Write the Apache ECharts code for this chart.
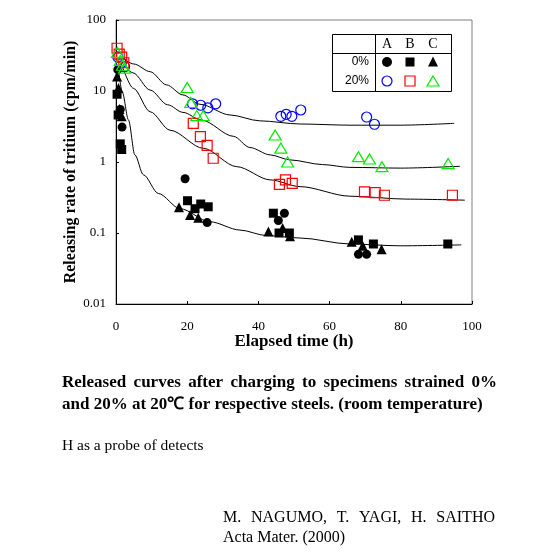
<!DOCTYPE html>
<html>
<head>
<meta charset="utf-8">
<script src="https://cdn.jsdelivr.net/npm/echarts@6/dist/echarts.min.js"></script>
<style>
  html, body { margin: 0; padding: 0; background: #fff; }
  #chart { width: 539px; height: 558px; }
</style>
</head>
<body>
<div id="chart"></div>
<script>
// tick labels
var xTicks = [0, 20, 40, 60, 80, 100];
var yTickLabels = ['0.01', '0.1', '1', '10', '100'];

// 0% strained, steels A (circle), B (square), C (triangle)
var steelA0 = [[0.5, 20], [1.2, 5.5], [1.7, 3.1], [19.4, 0.58], [25.6, 0.14],
  [45.6, 0.15], [47.3, 0.19], [68.1, 0.05], [70.4, 0.05]];
var steelB0 = [[0.3, 9], [0.6, 4.6], [1.2, 1.8], [1.6, 1.5], [20.1, 0.285], [22.2, 0.22],
  [23.8, 0.256], [25.9, 0.234], [44.2, 0.19], [45.8, 0.1], [48.7, 0.1],
  [68.1, 0.08], [72.3, 0.07], [93.2, 0.07]];
var steelC0 = [[0.3, 16], [0.7, 11], [1.0, 5.6], [1.6, 4.4], [17.7, 0.23], [20.8, 0.18],
  [23.1, 0.164], [42.8, 0.105], [46.8, 0.118], [48.9, 0.09], [66.2, 0.075],
  [69.3, 0.066], [74.6, 0.059]];

// 20% strained
var steelA20 = [[0.5, 30], [1.5, 25], [2.4, 22], [21.5, 6.6], [23.8, 6.3], [25.8, 5.8],
  [28, 6.6], [46.3, 4.4], [47.8, 4.7], [49.4, 4.4], [51.9, 5.4], [70.4, 4.3], [72.6, 3.4]];
var steelB20 = [[0.3, 40], [0.9, 33], [1.6, 30], [2.2, 25], [21.7, 3.5], [23.7, 2.27],
  [25.6, 1.72], [27.3, 1.13], [45.9, 0.485], [47.6, 0.56], [49.5, 0.5], [69.8, 0.38],
  [72.8, 0.37], [75.4, 0.34], [94.5, 0.34]];
var steelC20 = [[0.4, 35], [1.2, 27], [1.8, 23], [2.4, 21], [20, 11.2], [21, 6.9],
  [22.7, 4.5], [24.5, 4.5], [44.7, 2.4], [46.3, 1.57], [48.2, 1.0], [68.1, 1.19],
  [71.2, 1.1], [74.7, 0.86], [93.3, 0.95]];

// fitted curves
var curveA20 = [[1.5, 30], [5, 24], [9.6, 18.7], [14.2, 12.2], [18.8, 8.8], [23.6, 6.5],
  [32, 4.6], [40.4, 3.8], [51.7, 3.43], [65.7, 3.3], [79.8, 3.3], [95, 3.5]];
var curveC20 = [[1.5, 26], [4.8, 18], [9.6, 10.3], [14.5, 6.4], [18.8, 5.0], [24, 3.9],
  [33, 2.3], [37.6, 1.6], [43.3, 1.26], [48.9, 1.07], [58, 0.92], [65.7, 0.84],
  [80, 0.82], [96.6, 0.87]];
var curveB20 = [[1.4, 25], [4.9, 10.9], [9.6, 5.1], [15.2, 2.8], [24.5, 1.56],
  [33.9, 0.86], [43.3, 0.56], [51.7, 0.45], [65.7, 0.33], [81.7, 0.30], [98, 0.29]];
var curve0 = [[0.6, 22], [1.8, 9.5], [3.5, 3.9], [5.3, 1.26], [7.7, 0.66], [11.9, 0.36],
  [18, 0.22], [26.4, 0.144], [34.8, 0.11], [42.3, 0.092], [51.7, 0.085], [65.7, 0.07],
  [79.8, 0.066], [97, 0.068]];

var SERIF = '"Liberation Serif", "Times New Roman", serif';
var SANS = '"Liberation Sans", Arial, sans-serif';

var myChart = echarts.init(document.getElementById('chart'));

function curve(data) {
  return {
    type: 'line', data: data, smooth: 0.3, smoothMonotone: 'x',
    showSymbol: false, silent: true, z: 1,
    lineStyle: { color: '#000', width: 1 }
  };
}
function dots(data, symbol, size, fill, stroke) {
  return {
    type: 'scatter', data: data, symbol: symbol, symbolSize: size, z: 3,
    itemStyle: { color: fill, borderColor: stroke, opacity: 1, borderWidth: fill === 'none' ? 1.2 : 0 }
  };
}

// spread the words of one line evenly between x0 and x1
var measureCtx = document.createElement('canvas').getContext('2d');
function justified(words, x0, x1, top, font) {
  measureCtx.font = font;
  var widths = words.map(function (w) { return measureCtx.measureText(w).width; });
  var total = widths.reduce(function (a, b) { return a + b; }, 0);
  var gap = (x1 - x0 - total) / (words.length - 1);
  var x = x0, out = [];
  words.forEach(function (w, i) {
    out.push({ type: 'text', left: x, top: top, style: { text: w, font: font, fill: '#000' } });
    x += widths[i] + gap;
  });
  return out;
}

var CAPTION_FONT = 'bold 17px ' + SERIF;
var graphics = [].concat(
  justified(['Released', 'curves', 'after', 'charging', 'to', 'specimens', 'strained', '0%'], 62, 497, 374, CAPTION_FONT),
  justified(['M.', 'NAGUMO,', 'T.', 'YAGI,', 'H.', 'SAITHO'], 223, 495, 510, '16px ' + SERIF)
);
graphics.push(
  { type: 'text', left: 62, top: 396,
    style: { text: 'and 20% at 20\u2103 for respective steels. (room temperature)', font: CAPTION_FONT, fill: '#000' } },
  { type: 'text', left: 62, top: 438,
    style: { text: 'H as a probe of detects', font: '15.5px ' + SERIF, fill: '#000' } },
  { type: 'text', left: 223, top: 530,
    style: { text: 'Acta Mater. (2000)', font: '16px ' + SERIF, fill: '#000' } },
  // key table
  { type: 'rect', shape: { x: 332.5, y: 34.5, width: 119, height: 57 }, z: 10,
    style: { fill: '#fff', stroke: '#000', lineWidth: 1 } },
  { type: 'line', shape: { x1: 332.5, y1: 53.5, x2: 451.5, y2: 53.5 }, z: 11, style: { stroke: '#000', lineWidth: 1 } },
  { type: 'line', shape: { x1: 375.5, y1: 34.5, x2: 375.5, y2: 91.5 }, z: 11, style: { stroke: '#000', lineWidth: 1 } },
  { type: 'text', x: 387, y: 44, z: 11, style: { text: 'A', font: '14px ' + SERIF, fill: '#000', align: 'center', verticalAlign: 'middle' } },
  { type: 'text', x: 410, y: 44, z: 11, style: { text: 'B', font: '14px ' + SERIF, fill: '#000', align: 'center', verticalAlign: 'middle' } },
  { type: 'text', x: 433, y: 44, z: 11, style: { text: 'C', font: '14px ' + SERIF, fill: '#000', align: 'center', verticalAlign: 'middle' } },
  { type: 'text', x: 369, y: 62, z: 11, style: { text: '0%', font: '12px ' + SANS, fill: '#000', align: 'right', verticalAlign: 'middle' } },
  { type: 'text', x: 369, y: 81, z: 11, style: { text: '20%', font: '12px ' + SANS, fill: '#000', align: 'right', verticalAlign: 'middle' } },
  { type: 'circle', shape: { cx: 387, cy: 62, r: 5 }, z: 11, style: { fill: '#000' } },
  { type: 'rect', shape: { x: 405.5, y: 57.5, width: 9, height: 9 }, z: 11, style: { fill: '#000' } },
  { type: 'polygon', shape: { points: [[433, 56.5], [438, 66.5], [428, 66.5]] }, z: 11, style: { fill: '#000' } },
  { type: 'circle', shape: { cx: 387, cy: 81, r: 5 }, z: 11, style: { fill: 'none', stroke: '#0000ff', lineWidth: 1.2 } },
  { type: 'rect', shape: { x: 405, y: 76, width: 10, height: 10 }, z: 11, style: { fill: 'none', stroke: '#ff0000', lineWidth: 1.2 } },
  { type: 'polygon', shape: { points: [[433, 76], [439, 86], [427, 86]] }, z: 11, style: { fill: 'none', stroke: '#00ee00', lineWidth: 1.2 } }
);

var option = {
  animation: false,
  backgroundColor: '#fff',
  grid: { left: 116, top: 20, width: 356, height: 284, show: true, borderColor: '#808080', borderWidth: 1, backgroundColor: 'transparent' },
  xAxis: {
    type: 'value', min: 0, max: 100, interval: 20,
    name: 'Elapsed time (h)', nameLocation: 'middle', nameGap: 29, nameMoveOverlap: false,
    nameTextStyle: { fontFamily: SERIF, fontWeight: 'bold', fontSize: 17, color: '#000' },
    axisLine: { lineStyle: { color: '#000', width: 1 } },
    axisTick: { inside: true, length: 3, lineStyle: { color: '#000' } },
    axisLabel: { margin: 16, fontFamily: SERIF, fontSize: 13, color: '#000',
      formatter: function (v) { return xTicks.indexOf(v) >= 0 ? String(v) : ''; } },
    splitLine: { show: false }
  },
  yAxis: {
    type: 'log', logBase: 10, min: 0.01, max: 100,
    name: 'Releasing rate of tritium (cpm/min)', nameLocation: 'middle', nameGap: 37, nameMoveOverlap: false,
    nameTextStyle: { fontFamily: SERIF, fontWeight: 'bold', fontSize: 16, color: '#000' },
    axisLine: { show: true, lineStyle: { color: '#000', width: 1 } },
    axisTick: { show: true, inside: true, length: 3, lineStyle: { color: '#000' } },
    minorTick: { show: false },
    axisLabel: { margin: 10, fontFamily: SERIF, fontSize: 13, color: '#000',
      formatter: function (v) {
        var e = Math.round(Math.log(v) / Math.LN10);
        return yTickLabels[e + 2] || '';
      } },
    splitLine: { show: false }
  },
  graphic: graphics,
  series: [
    curve(curveA20), curve(curveC20), curve(curveB20), curve(curve0),
    dots(steelA0, 'circle', 9, '#000', '#000'),
    dots(steelB0, 'rect', 9, '#000', '#000'),
    dots(steelC0, 'triangle', [10, 10], '#000', '#000'),
    dots(steelA20, 'circle', 10, 'none', '#0000ff'),
    dots(steelB20, 'rect', 10, 'none', '#ff0000'),
    dots(steelC20, 'triangle', [12, 10], 'none', '#00ee00')
  ]
};

myChart.setOption(option);
</script>
</body>
</html>
